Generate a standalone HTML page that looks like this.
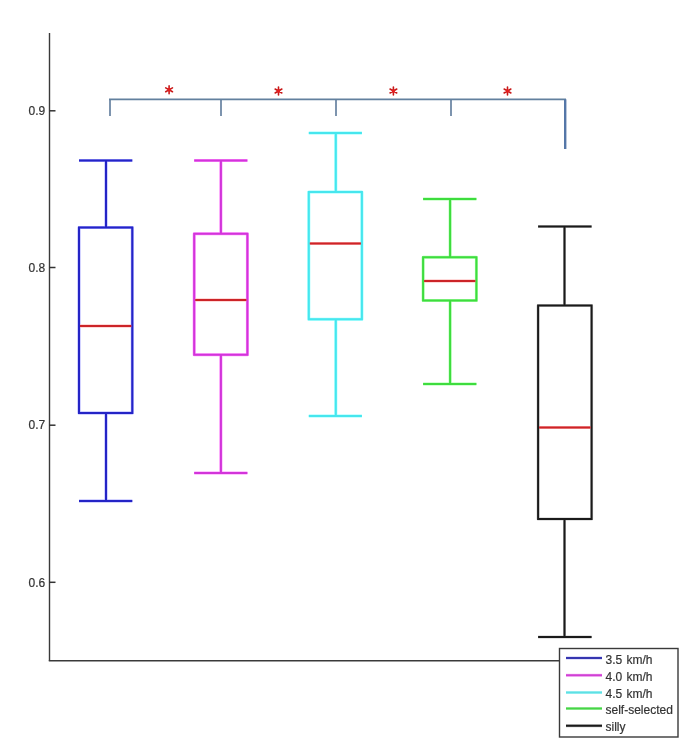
<!DOCTYPE html>
<html><head><meta charset="utf-8"><style>
html,body{margin:0;padding:0;background:#fff;}
body{width:685px;height:745px;overflow:hidden;}
svg{display:block;}
text{-webkit-font-smoothing:antialiased;}
.t{will-change:transform;}
text{font-family:"Liberation Sans",sans-serif;font-size:12px;fill:#333;stroke:#333;stroke-width:0.2px;}
</style></head><body>
<svg width="685" height="745" viewBox="0 0 685 745">
<rect width="685" height="745" fill="#fff"/>
<line x1="49.5" y1="33" x2="49.5" y2="661" stroke="#3a3a3a" stroke-width="1.4"/>
<line x1="48.8" y1="660.7" x2="560" y2="660.7" stroke="#3a3a3a" stroke-width="1.4"/>
<g class="t"><line x1="49" y1="110.8" x2="55.5" y2="110.8" stroke="#333" stroke-width="1.5"/>
<text x="45.2" y="115.0" text-anchor="end">0.9</text>
<line x1="49" y1="267.5" x2="55.5" y2="267.5" stroke="#333" stroke-width="1.5"/>
<text x="45.2" y="271.7" text-anchor="end">0.8</text>
<line x1="49" y1="425.2" x2="55.5" y2="425.2" stroke="#333" stroke-width="1.5"/>
<text x="45.2" y="429.4" text-anchor="end">0.7</text>
<line x1="49" y1="582.3" x2="55.5" y2="582.3" stroke="#333" stroke-width="1.5"/>
<text x="45.2" y="586.5" text-anchor="end">0.6</text></g>
<line x1="110" y1="99" x2="110" y2="116" stroke="#7d94ae" stroke-width="2"/>
<line x1="221" y1="99" x2="221" y2="116" stroke="#7d94ae" stroke-width="2"/>
<line x1="336" y1="99" x2="336" y2="116" stroke="#7d94ae" stroke-width="2"/>
<line x1="451" y1="99" x2="451" y2="116" stroke="#7d94ae" stroke-width="2"/>
<line x1="109" y1="99.3" x2="566" y2="99.3" stroke="#62809e" stroke-width="1.8"/>
<line x1="565.2" y1="99.3" x2="565.2" y2="149" stroke="#5577a8" stroke-width="2.4"/>
<path d="M169.10 93.70L169.10 85.90M165.72 91.75L172.48 87.85M165.72 87.85L172.48 91.75" stroke="#c81a1a" stroke-width="1.6" stroke-linecap="round"/><circle cx="169.1" cy="89.8" r="1.7" fill="#e61e1e"/>
<path d="M278.50 94.90L278.50 87.10M275.12 92.95L281.88 89.05M275.12 89.05L281.88 92.95" stroke="#c81a1a" stroke-width="1.6" stroke-linecap="round"/><circle cx="278.5" cy="91.0" r="1.7" fill="#e61e1e"/>
<path d="M393.40 94.90L393.40 87.10M390.02 92.95L396.78 89.05M390.02 89.05L396.78 92.95" stroke="#c81a1a" stroke-width="1.6" stroke-linecap="round"/><circle cx="393.4" cy="91.0" r="1.7" fill="#e61e1e"/>
<path d="M507.50 94.90L507.50 87.10M504.12 92.95L510.88 89.05M504.12 89.05L510.88 92.95" stroke="#c81a1a" stroke-width="1.6" stroke-linecap="round"/><circle cx="507.5" cy="91.0" r="1.7" fill="#e61e1e"/>
<g stroke="#a8a8ff" stroke-width="3.0" fill="none" stroke-linejoin="round"><path d="M79.0 160.4H132.3M106.0 160.4V227.5M79.0 227.5H132.3V413.0H79.0ZM106.0 413.0V501.1M79.0 501.1H132.3"/></g>
<line x1="80.0" y1="325.9" x2="131.3" y2="325.9" stroke="#ffb4b4" stroke-width="3.0"/>
<g stroke="#ff90ff" stroke-width="3.0" fill="none" stroke-linejoin="round"><path d="M194.2 160.4H247.4M220.9 160.4V233.8M194.2 233.8H247.4V354.7H194.2ZM220.9 354.7V472.9M194.2 472.9H247.4"/></g>
<line x1="195.2" y1="300.0" x2="246.4" y2="300.0" stroke="#ffb4b4" stroke-width="3.0"/>
<g stroke="#96ffff" stroke-width="3.0" fill="none" stroke-linejoin="round"><path d="M308.8 133.1H361.9M335.8 133.1V191.95M308.8 191.95H361.9V319.2H308.8ZM335.8 319.2V415.9M308.8 415.9H361.9"/></g>
<line x1="309.8" y1="243.6" x2="360.9" y2="243.6" stroke="#ffb4b4" stroke-width="3.0"/>
<g stroke="#aaffaa" stroke-width="3.0" fill="none" stroke-linejoin="round"><path d="M423.1 198.9H476.4M450.1 198.9V257.3M423.1 257.3H476.4V300.6H423.1ZM450.1 300.6V384.1M423.1 384.1H476.4"/></g>
<line x1="424.1" y1="280.9" x2="475.4" y2="280.9" stroke="#ffb4b4" stroke-width="3.0"/>
<g stroke="#c8c8c8" stroke-width="3.0" fill="none" stroke-linejoin="round"><path d="M538.1 226.6H591.6M564.5 226.6V305.4M538.1 305.4H591.6V518.9H538.1ZM564.5 518.9V637.1M538.1 637.1H591.6"/></g>
<line x1="539.1" y1="427.6" x2="590.6" y2="427.6" stroke="#ffb4b4" stroke-width="3.0"/>
<g stroke="#2424c6" stroke-width="2" fill="none"><path d="M79.0 160.4H132.3M106.0 160.4V227.5M79.0 227.5H132.3V413.0H79.0ZM106.0 413.0V501.1M79.0 501.1H132.3"/></g>
<line x1="80.0" y1="325.9" x2="131.3" y2="325.9" stroke="#cc2428" stroke-width="2"/>
<g stroke="#d234da" stroke-width="2" fill="none"><path d="M194.2 160.4H247.4M220.9 160.4V233.8M194.2 233.8H247.4V354.7H194.2ZM220.9 354.7V472.9M194.2 472.9H247.4"/></g>
<line x1="195.2" y1="300.0" x2="246.4" y2="300.0" stroke="#cc2428" stroke-width="2"/>
<g stroke="#46e6ee" stroke-width="2" fill="none"><path d="M308.8 133.1H361.9M335.8 133.1V191.95M308.8 191.95H361.9V319.2H308.8ZM335.8 319.2V415.9M308.8 415.9H361.9"/></g>
<line x1="309.8" y1="243.6" x2="360.9" y2="243.6" stroke="#cc2428" stroke-width="2"/>
<g stroke="#3edc3e" stroke-width="2" fill="none"><path d="M423.1 198.9H476.4M450.1 198.9V257.3M423.1 257.3H476.4V300.6H423.1ZM450.1 300.6V384.1M423.1 384.1H476.4"/></g>
<line x1="424.1" y1="280.9" x2="475.4" y2="280.9" stroke="#cc2428" stroke-width="2"/>
<g stroke="#1a1a1a" stroke-width="2" fill="none"><path d="M538.1 226.6H591.6M564.5 226.6V305.4M538.1 305.4H591.6V518.9H538.1ZM564.5 518.9V637.1M538.1 637.1H591.6"/></g>
<line x1="539.1" y1="427.6" x2="590.6" y2="427.6" stroke="#cc2428" stroke-width="2"/>
<rect x="559.5" y="648.5" width="118.5" height="88.5" fill="#fff" stroke="#3a3a3a" stroke-width="1.4"/>
<g class="t"><line x1="566" y1="658.0" x2="602" y2="658.0" stroke="#c4c4f4" stroke-width="3.0"/>
<line x1="566" y1="658.0" x2="602" y2="658.0" stroke="#3636b0" stroke-width="2"/>
<text x="605.5" y="663.6" word-spacing="1">3.5 km/h</text>
<line x1="566" y1="675.2" x2="602" y2="675.2" stroke="#f6b8f8" stroke-width="3.0"/>
<line x1="566" y1="675.2" x2="602" y2="675.2" stroke="#d040d4" stroke-width="2"/>
<text x="605.5" y="680.6" word-spacing="1">4.0 km/h</text>
<line x1="566" y1="692.4" x2="602" y2="692.4" stroke="#bff8fa" stroke-width="3.0"/>
<line x1="566" y1="692.4" x2="602" y2="692.4" stroke="#5ee0e4" stroke-width="2"/>
<text x="605.5" y="697.6" word-spacing="1">4.5 km/h</text>
<line x1="566" y1="708.6" x2="602" y2="708.6" stroke="#c2f6c2" stroke-width="3.0"/>
<line x1="566" y1="708.6" x2="602" y2="708.6" stroke="#46d446" stroke-width="2"/>
<text x="605.5" y="713.8">self-selected</text>
<line x1="566" y1="725.7" x2="602" y2="725.7" stroke="#b8b8b8" stroke-width="3.0"/>
<line x1="566" y1="725.7" x2="602" y2="725.7" stroke="#1a1a1a" stroke-width="2"/>
<text x="605.5" y="730.8">silly</text></g>
</svg>
</body></html>
